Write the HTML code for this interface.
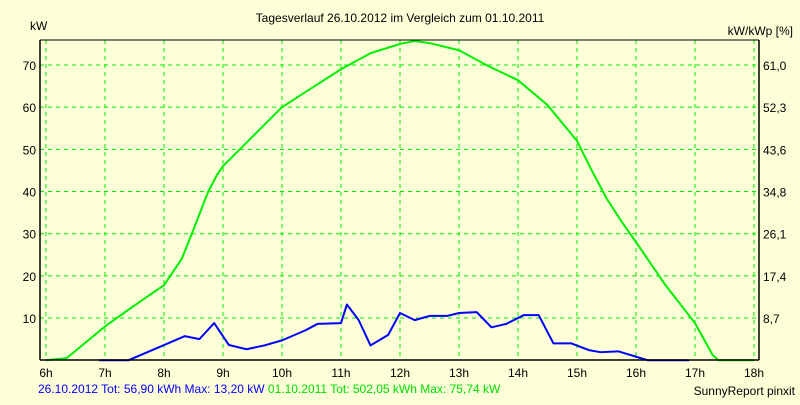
<!DOCTYPE html>
<html><head><meta charset="utf-8"><style>
body{margin:0;background:#ffffd8;font-family:"Liberation Sans",sans-serif;}
svg text{font-family:"Liberation Sans",sans-serif;font-size:12px;}
</style></head><body>
<svg width="800" height="400" id="c">
<rect width="800" height="400" fill="#ffffd8"/>
<text x="400" y="22" text-anchor="middle">Tagesverlauf 26.10.2012 im Vergleich zum 01.10.2011</text>
<text x="30" y="30">kW</text>
<text x="793" y="35" text-anchor="end">kW/kWp [%]</text>
<g id="grid"></g><g id="series"></g>
<line x1="40" y1="40" x2="759" y2="40" stroke="#000" stroke-width="1"/>
<line x1="40" y1="40" x2="40" y2="360" stroke="#000" stroke-width="1.5"/>
<line x1="759" y1="40" x2="759" y2="360" stroke="#000" stroke-width="1.5"/>
<line x1="40" y1="360" x2="759" y2="360" stroke="#000" stroke-width="1.5"/>
<g id="labels"></g>
<text x="38" y="393" font-size="11"><tspan fill="#0000ff">26.10.2012 Tot: 56,90 kWh Max: 13,20 kW</tspan><tspan fill="#00dd00"> 01.10.2011 Tot: 502,05 kWh Max: 75,74 kW</tspan></text>
<text x="795" y="395" text-anchor="end" font-size="11">SunnyReport pinxit</text>
</svg>
<script>
const hourTicks=[6,7,8,9,10,11,12,13,14,15,16,17,18];
const yTicks=[10,20,30,40,50,60,70];
const yRightLabels=["8,7","17,4","26,1","34,8","43,6","52,3","61,0"];
const greenT=[6.0,6.35,7.0,7.5,8.0,8.3,8.5,8.75,8.9,9.0,9.5,10.0,10.5,11.0,11.5,12.0,12.25,12.5,13.0,13.5,14.0,14.5,15.0,15.25,15.5,15.75,16.0,16.5,17.0,17.3,17.4,18.0];
const greenV=[0,0.5,8,13,17.8,24,31,40,44,46,53,60,64.5,69,72.8,75,75.7,75.2,73.5,69.7,66.4,60.5,52,45,38.4,33,28,17.8,8.8,1.2,0,0];
const blueT=[6.9,7.4,8.0,8.35,8.6,8.85,9.1,9.4,9.7,10.0,10.4,10.6,11.0,11.1,11.3,11.5,11.8,12.0,12.25,12.5,12.8,13.0,13.3,13.55,13.8,14.1,14.35,14.6,14.9,15.2,15.4,15.7,16.1,16.2,16.9];
const blueV=[0,0,3.6,5.7,5,8.8,3.6,2.6,3.5,4.7,7.1,8.6,8.8,13.2,9.5,3.5,6,11.2,9.5,10.5,10.5,11.2,11.4,7.8,8.6,10.7,10.7,4,4,2.4,1.9,2.1,0.4,0,0];
const X=h=>46+(h-6)*59;
const Y=v=>360.2-v*4.217;
const NS="http://www.w3.org/2000/svg";
function mk(tag,attrs,parent){const e=document.createElementNS(NS,tag);for(const k in attrs)e.setAttribute(k,attrs[k]);document.getElementById(parent).appendChild(e);return e;}
hourTicks.forEach(h=>{
 const l=mk('line',{x1:X(h),y1:40,x2:X(h),y2:360,stroke:'#00ee00','stroke-dasharray':'4,4'},'grid');
 
 
 const t=mk('text',{x:X(h),y:377,'text-anchor':'middle'},'labels');t.textContent=h+'h';
 
 
});
yTicks.forEach((v,i)=>{
 const l=mk('line',{x1:40,y1:Y(v),x2:759,y2:Y(v),stroke:'#00ee00','stroke-dasharray':'4,4'},'grid');
 
 
 const t=mk('text',{x:36,y:Y(v)+5,'text-anchor':'end'},'labels');t.textContent=v;
 
 
 const r=mk('text',{x:763,y:Y(v)+5},'labels');r.textContent=yRightLabels[i];
 
 
});
function line(T,V,col,name){
 const p=mk('polyline',{points:T.map((t,i)=>X(t)+','+Y(V[i])).join(' '),fill:'none',stroke:col,'stroke-width':2,'stroke-linejoin':'round'},'series');
 
 
}
line(greenT,greenV,'#00ee00','series-2011-line');
line(blueT,blueV,'#0000ff','series-2012-line');
</script>
</body></html>
